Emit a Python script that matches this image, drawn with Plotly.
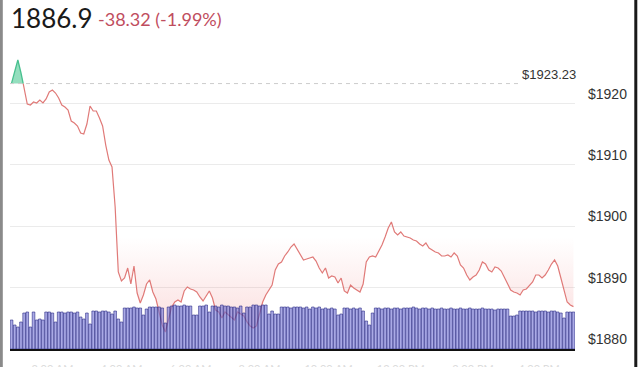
import plotly.graph_objects as go

# ---- data ----
PRICE = [
    1923.30, 1925.44, 1927.07, 1924.95, 1922.51, 1919.90, 1919.74, 1920.23, 1920.07, 1920.55,
    1920.07, 1920.72, 1921.86, 1922.18, 1921.69, 1920.88, 1919.74, 1919.41, 1918.93, 1917.13,
    1916.81, 1916.32, 1915.18, 1915.02, 1916.64, 1919.58, 1918.76, 1918.76, 1917.62, 1916.32,
    1913.22, 1910.78, 1909.64, 1903.13, 1892.54, 1891.07, 1891.56, 1893.19, 1890.59, 1893.52,
    1889.12, 1887.49, 1888.79, 1890.59, 1891.24, 1889.28, 1888.14, 1885.86, 1883.91, 1882.77,
    1884.72, 1886.84, 1887.65, 1887.98, 1887.65, 1889.45, 1890.10, 1889.77, 1889.61, 1889.28,
    1888.47, 1887.82, 1888.63, 1889.45, 1888.31, 1886.35, 1886.03, 1885.05, 1886.03, 1885.54,
    1885.05, 1884.72, 1886.03, 1885.70, 1885.37, 1884.40, 1883.75, 1883.42, 1883.75, 1885.70,
    1887.65, 1888.79, 1889.61, 1890.42, 1892.87, 1893.84, 1894.17, 1895.15, 1895.80, 1896.61,
    1897.10, 1896.29, 1895.47, 1894.50, 1894.66, 1894.82, 1894.98, 1894.33, 1893.19, 1892.38,
    1893.19, 1891.56, 1891.89, 1891.73, 1890.75, 1891.56, 1889.45, 1889.12, 1890.42, 1889.93,
    1889.61, 1889.28, 1890.59, 1894.17, 1894.98, 1895.15, 1894.98, 1895.96, 1896.94, 1898.24,
    1899.71, 1900.68, 1899.06, 1898.57, 1899.06, 1898.40, 1898.24, 1898.08, 1897.75, 1897.59,
    1897.10, 1896.78, 1897.26, 1896.45, 1896.12, 1895.80, 1895.64, 1895.15, 1895.15, 1895.31,
    1894.98, 1895.64, 1895.15, 1893.68, 1893.19, 1892.05, 1891.24, 1891.73, 1892.05, 1892.87,
    1894.17, 1893.84, 1892.87, 1892.54, 1893.36, 1893.19, 1892.70, 1891.73, 1890.75, 1889.61,
    1889.28, 1889.12, 1888.79, 1889.61, 1889.77, 1890.26, 1890.91, 1892.05, 1892.05, 1891.56,
    1892.05, 1892.87, 1893.84, 1894.50, 1893.52, 1891.56, 1889.45, 1887.65, 1887.17, 1886.90,
]

VOLUME = [
    29, 24, 22, 27, 36, 37, 22, 37, 29, 30,
    29, 37, 37, 36, 27, 37, 37, 36, 37, 37,
    36, 37, 32, 30, 36, 25, 38, 38, 37, 38,
    38, 37, 35, 38, 30, 27, 41, 41, 41, 42,
    41, 41, 34, 40, 42, 42, 42, 42, 41, 26,
    42, 43, 44, 43, 43, 44, 43, 43, 34, 34,
    43, 43, 44, 37, 43, 43, 42, 44, 43, 43,
    42, 42, 41, 43, 36, 42, 42, 44, 44, 43,
    44, 44, 35, 38, 35, 35, 42, 42, 42, 41,
    42, 42, 42, 41, 42, 40, 42, 41, 42, 40,
    41, 40, 41, 40, 34, 35, 41, 41, 40, 41,
    40, 41, 38, 28, 24, 36, 41, 41, 40, 41,
    41, 40, 41, 41, 40, 41, 41, 41, 42, 41,
    40, 41, 41, 40, 41, 40, 40, 41, 40, 40,
    41, 40, 40, 41, 40, 40, 41, 40, 40, 40,
    41, 40, 40, 40, 39, 40, 40, 40, 40, 33,
    33, 34, 38, 38, 38, 38, 38, 37, 38, 38,
    38, 37, 38, 38, 37, 36, 31, 37, 37, 37,
]

PREV_CLOSE = 1923.23
LAST = 1886.9
CHANGE = -38.32
CHANGE_PCT = -1.99

Y_TICKS = [1880, 1890, 1900, 1910, 1920, 1930]
Y_TICK_TEXT = ["$1880", "$1890", "$1900", "$1910", "$1920", ""]
X_TICKS = [13, 35, 57, 79, 101, 124, 147, 168]
X_TICK_TEXT = ["2:00 AM", "4:00 AM", "6:00 AM", "8:00 AM", "10:00 AM", "12:00 PM", "2:00 PM", "4:00 PM"]

# ---- derived series ----
n = len(PRICE)
xs = list(range(n))
base = PREV_CLOSE

# first crossing below the previous close
k = next(i for i, p in enumerate(PRICE) if p < base)
xc = (k - 1) + (PRICE[k - 1] - base) / (PRICE[k - 1] - PRICE[k])

below_y = [min(p, base) for p in PRICE]

fig = go.Figure()

# baseline for red fill
fig.add_trace(go.Scatter(x=xs, y=[base] * n, mode="lines",
                         line=dict(width=0, color="rgba(0,0,0,0)"),
                         hoverinfo="skip"))
fig.add_trace(go.Scatter(
    x=xs, y=below_y, mode="lines", line=dict(width=0, color="rgba(0,0,0,0)"),
    fill="tonexty",
    fillgradient=dict(type="vertical", start=1880, stop=base,
                      colorscale=[[0, "rgba(235,95,95,0.22)"],
                                  [0.18, "rgba(235,95,95,0.14)"],
                                  [0.42, "rgba(235,95,95,0.0)"],
                                  [1, "rgba(235,95,95,0.0)"]]),
    hoverinfo="skip"))

# green area above previous close
gx = xs[:k] + [xc]
gy = PRICE[:k] + [base]
fig.add_trace(go.Scatter(x=gx + [0], y=gy + [base], mode="lines", fill="toself",
                         fillcolor="rgba(90,205,155,0.65)",
                         line=dict(width=0, color="rgba(0,0,0,0)"), hoverinfo="skip"))
fig.add_trace(go.Scatter(x=gx, y=gy, mode="lines",
                         line=dict(width=1.3, color="#48c08f"), hoverinfo="skip"))

# red price line
fig.add_trace(go.Scatter(x=[xc] + xs[k:], y=[base] + PRICE[k:], mode="lines",
                         line=dict(width=1.2, color="#e07a78"), hoverinfo="skip"))

# volume bars
fig.add_trace(go.Bar(x=xs, y=VOLUME, yaxis="y2",
                     marker=dict(color="rgba(122,122,216,0.64)",
                                 line=dict(color="rgba(36,36,128,0.95)", width=0.6)),
                     hoverinfo="skip"))

fig.update_layout(
    width=640, height=367,
    margin=dict(l=10, r=65, t=42, b=18, autoexpand=False),
    paper_bgcolor="white", plot_bgcolor="white",
    showlegend=False, bargap=0.16,
    xaxis=dict(range=[-0.5, n - 0.5], showgrid=False, zeroline=False, automargin=False,
               showline=True, linecolor="#111111", linewidth=2,
               tickvals=X_TICKS, ticktext=X_TICK_TEXT, ticks="",
               tickfont=dict(family="Lato", size=11, color="#dcdcdc"),
               ticklabelstandoff=9),
    yaxis=dict(range=[1880, 1930], side="right", tickvals=Y_TICKS, ticktext=Y_TICK_TEXT,
               showgrid=True, gridcolor="#ebebeb", gridwidth=1, zeroline=False, automargin=False,
               ticks="", ticklabelposition="outside top", ticklabelstandoff=12,
               tickfont=dict(family="Liberation Sans, Arial", size=14, color="#333333")),
    yaxis2=dict(overlaying="y", range=[0, 307], visible=False),
)

# previous close dashed line and label
fig.add_shape(type="line", xref="paper", yref="y", x0=0, x1=0.906, y0=base, y1=base,
              line=dict(color="#cccccc", width=1, dash="4px,4px"))
fig.add_annotation(xref="paper", yref="y", x=1.006, y=base, xanchor="right", yanchor="bottom",
                   text=f"${base:.2f}", showarrow=False, yshift=0,
                   font=dict(family="Liberation Sans, Arial", size=13, color="#333333"))

# header
fig.add_annotation(xref="paper", yref="paper", x=0, y=1.078, xanchor="left", yanchor="middle",
                   text=f"{LAST}", showarrow=False, xshift=-1,
                   font=dict(family="Lato", size=26, color="#1a1a1a"))
fig.add_annotation(xref="paper", yref="paper", x=0.153, y=1.076, xanchor="left", yanchor="middle",
                   text=f"{CHANGE:.2f} ({CHANGE_PCT:.2f}%)", showarrow=False,
                   font=dict(family="Lato", size=18, color="#bf4d5e"))

# frame edges of the widget
fig.add_shape(type="line", xref="paper", yref="paper", x0=-0.0154, x1=-0.0154, y0=-0.07, y1=1.15,
              line=dict(color="#8a8a8a", width=3))
fig.add_shape(type="line", xref="paper", yref="paper", x0=1.1076, x1=1.1076, y0=-0.07, y1=1.15,
              line=dict(color="#1a1a1a", width=3))

fig.write_html("out.html", config={"displayModeBar": False},
               post_script="document.body.style.margin='0';document.body.style.padding='0';")
